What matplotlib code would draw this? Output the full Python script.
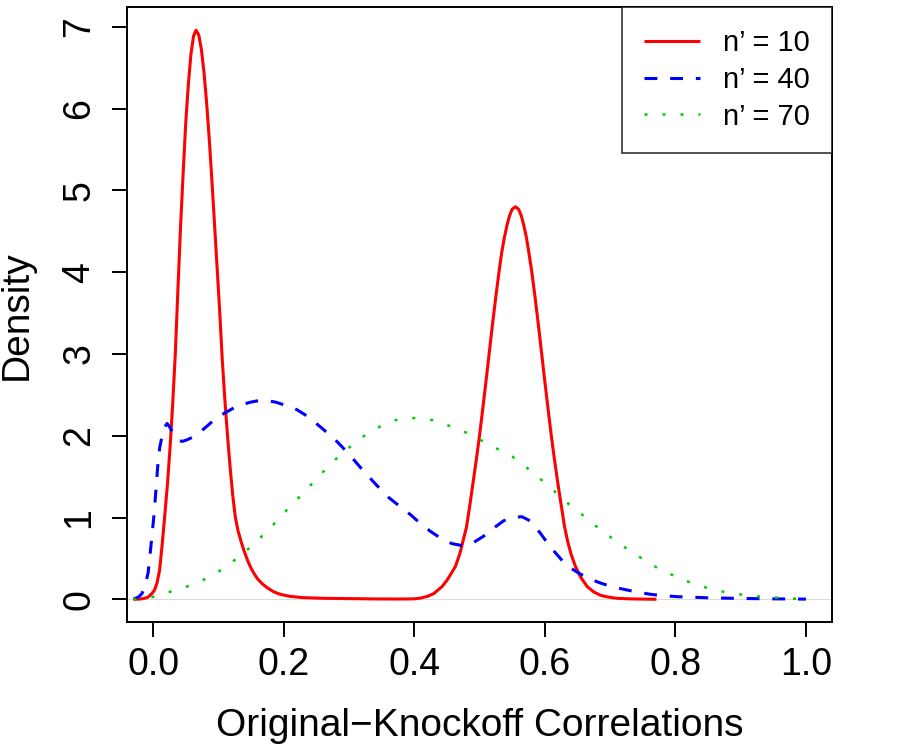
import matplotlib
matplotlib.use("Agg")
import matplotlib.pyplot as plt

plt.rcParams['font.family'] = ['Liberation Sans', 'DejaVu Sans']

# n' = 10
red_x = [-0.030, -0.022, -0.015, -0.008, -0.002, 0.002, 0.006, 0.010, 0.014, 0.018,
         0.022, 0.026, 0.030, 0.034, 0.038, 0.042, 0.046, 0.050, 0.054, 0.058,
         0.062, 0.0658, 0.070, 0.074, 0.078, 0.082, 0.086, 0.090, 0.094, 0.098,
         0.102, 0.106, 0.110, 0.114, 0.118, 0.122, 0.126, 0.130, 0.135, 0.139,
         0.145, 0.150, 0.155, 0.160, 0.167, 0.175, 0.185, 0.195, 0.210, 0.230,
         0.260, 0.300, 0.340, 0.380, 0.400, 0.410, 0.420, 0.430, 0.4426, 0.450,
         0.457, 0.463, 0.470, 0.475, 0.480, 0.485, 0.490, 0.495, 0.500, 0.505,
         0.510, 0.515, 0.520, 0.525, 0.530, 0.534, 0.538, 0.542, 0.546, 0.550,
         0.555, 0.560, 0.564, 0.568, 0.572, 0.576, 0.580, 0.585, 0.590, 0.595,
         0.600, 0.605, 0.610, 0.615, 0.620, 0.625, 0.630, 0.635, 0.640, 0.647,
         0.655, 0.665, 0.675, 0.685, 0.695, 0.710, 0.730, 0.750, 0.771]
red_y = [0.000, 0.002, 0.008, 0.025, 0.07, 0.11, 0.20, 0.36, 0.68, 1.04,
         1.41, 1.86, 2.39, 3.00, 3.79, 4.55, 5.21, 5.83, 6.30, 6.67,
         6.89, 6.96, 6.90, 6.72, 6.44, 6.07, 5.63, 5.13, 4.60, 4.06,
         3.52, 2.92, 2.43, 2.00, 1.61, 1.27, 1.00, 0.84, 0.70, 0.60,
         0.47, 0.38, 0.31, 0.25, 0.19, 0.14, 0.09, 0.06, 0.035, 0.02,
         0.012, 0.008, 0.004, 0.003, 0.005, 0.015, 0.035, 0.07, 0.155, 0.23,
         0.32, 0.40, 0.56, 0.72, 0.88, 1.14, 1.42, 1.70, 2.00, 2.33,
         2.67, 3.02, 3.37, 3.70, 4.01, 4.24, 4.42, 4.57, 4.69, 4.77,
         4.80, 4.77, 4.69, 4.57, 4.42, 4.22, 4.01, 3.70, 3.37, 3.02,
         2.67, 2.33, 2.00, 1.70, 1.42, 1.16, 0.90, 0.71, 0.56, 0.40,
         0.27, 0.155, 0.09, 0.05, 0.03, 0.012, 0.005, 0.002, 0.000]

# n' = 40
blue_x = [-0.030, -0.022, -0.017, -0.012, -0.0077, -0.004, 0.001, 0.004, 0.007, 0.010,
          0.0138, 0.017, 0.0214, 0.026, 0.032, 0.038, 0.0444, 0.052, 0.060, 0.067,
          0.080, 0.093, 0.108, 0.1235, 0.136, 0.149, 0.162, 0.175, 0.188, 0.200,
          0.220, 0.236, 0.250, 0.2766, 0.290, 0.307, 0.320, 0.343, 0.360, 0.379,
          0.395, 0.409, 0.425, 0.440, 0.458, 0.4757, 0.490, 0.506, 0.520, 0.537,
          0.550, 0.565, 0.575, 0.583, 0.593, 0.603, 0.614, 0.626, 0.638, 0.652,
          0.668, 0.685, 0.700, 0.7207, 0.740, 0.7616, 0.780, 0.802, 0.850, 0.900,
          0.950, 1.000]
blue_y = [0.00, 0.03, 0.07, 0.18, 0.32, 0.60, 1.00, 1.30, 1.62, 1.85,
          2.00, 2.10, 2.15, 2.10, 2.00, 1.95, 1.93, 1.95, 1.98, 2.01,
          2.10, 2.19, 2.27, 2.34, 2.38, 2.41, 2.43, 2.43, 2.41, 2.38,
          2.32, 2.24, 2.15, 1.97, 1.86, 1.71, 1.59, 1.39, 1.25, 1.13,
          1.03, 0.93, 0.83, 0.75, 0.68, 0.653, 0.69, 0.77, 0.86, 0.96,
          1.00, 1.01, 0.97, 0.91, 0.81, 0.70, 0.59, 0.48, 0.39, 0.32,
          0.25, 0.20, 0.16, 0.122, 0.09, 0.061, 0.045, 0.032, 0.018, 0.010,
          0.005, 0.002]

# n' = 70
green_x = [-0.030, -0.015, 0.000, 0.0086, 0.0265, 0.044, 0.062, 0.080, 0.0965, 0.113,
           0.1286, 0.142, 0.157, 0.171, 0.185, 0.198, 0.210, 0.224, 0.237, 0.250,
           0.263, 0.277, 0.290, 0.306, 0.320, 0.336, 0.353, 0.371, 0.390, 0.409,
           0.428, 0.447, 0.4645, 0.482, 0.4986, 0.5155, 0.533, 0.550, 0.566, 0.580,
           0.595, 0.6095, 0.624, 0.638, 0.653, 0.668, 0.682, 0.698, 0.713, 0.729,
           0.745, 0.762, 0.778, 0.796, 0.8126, 0.8315, 0.849, 0.868, 0.887, 0.9055,
           0.925, 0.944, 0.963, 0.983, 1.0015]
green_y = [0.00, 0.01, 0.03, 0.05, 0.093, 0.135, 0.183, 0.249, 0.318, 0.408,
           0.502, 0.59, 0.69, 0.81, 0.92, 1.03, 1.14, 1.25, 1.36, 1.47,
           1.58, 1.69, 1.795, 1.89, 1.98, 2.065, 2.134, 2.19, 2.216, 2.216,
           2.19, 2.14, 2.09, 2.03, 1.96, 1.89, 1.816, 1.746, 1.657, 1.555,
           1.46, 1.359, 1.256, 1.155, 1.06, 0.97, 0.87, 0.777, 0.686, 0.60,
           0.518, 0.432, 0.359, 0.295, 0.233, 0.184, 0.138, 0.10, 0.073, 0.053,
           0.035, 0.024, 0.016, 0.007, 0.0]

labels = ["n\u2019 = 10", "n\u2019 = 40", "n\u2019 = 70"]
x_ticks = [0.0, 0.2, 0.4, 0.6, 0.8, 1.0]
x_tick_labels = ["0.0", "0.2", "0.4", "0.6", "0.8", "1.0"]
y_ticks = [0, 1, 2, 3, 4, 5, 6, 7]

fig = plt.figure(figsize=(9, 7.5), dpi=100)
ax = fig.add_axes([127/900, 1 - 622/750, 705/900, 614.7/750])

ax.axhline(0, color="#BEBEBE", lw=0.4, zorder=1)
l1, = ax.plot(red_x, red_y, color="#FF0000", lw=2.2, zorder=2,
              solid_capstyle="butt", solid_joinstyle="round")
l2, = ax.plot(blue_x, blue_y, color="#0000FF", lw=2.2, zorder=3,
              dashes=(4.2, 4.2), dash_capstyle="butt", dash_joinstyle="round")
l3, = ax.plot(green_x, green_y, color="#00CD00", lw=1.8, zorder=4,
              dashes=(1.2, 6.0), dash_capstyle="butt")

ax.set_xlim(-0.04, 1.04)
ax.set_ylim(-0.278, 7.24)
ax.set_xticks(x_ticks)
ax.set_xticklabels(x_tick_labels)
ax.set_yticks(y_ticks)
ax.set_yticklabels([str(v) for v in y_ticks])

for s in ax.spines.values():
    s.set_linewidth(1.4)
    s.set_color("black")

ax.tick_params(axis="both", direction="out", length=11, width=1.4, colors="black",
               labelsize=27)
ax.tick_params(axis="x", pad=7)
ax.tick_params(axis="y", pad=10.5)
for t in ax.get_yticklabels():
    t.set_rotation(90)
    t.set_va("center")

ax.set_xlabel("Original\u2212Knockoff Correlations", fontsize=28, labelpad=18)
ax.set_ylabel("Density", fontsize=28, labelpad=19)

leg = ax.legend([l1, l2, l3], labels, loc="upper right", fontsize=21,
                frameon=True, fancybox=False, borderaxespad=0,
                handlelength=1.93, handletextpad=0.8, borderpad=0.75,
                labelspacing=0.3)
leg.get_frame().set_edgecolor("black")
leg.get_frame().set_linewidth(1.2)

fig.savefig("out.png", dpi=100)
